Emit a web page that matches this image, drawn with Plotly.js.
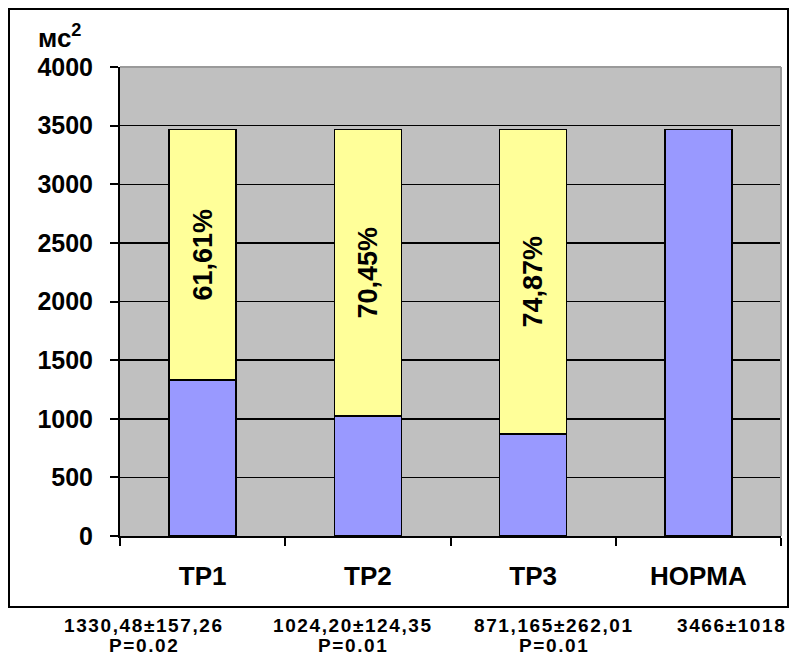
<!DOCTYPE html>
<html><head><meta charset="utf-8">
<script src="https://cdn.plot.ly/plotly-3.0.1.min.js"></script>
<style>html,body{margin:0;padding:0;background:#fff}</style>
</head><body>
<div id="chart" style="width:789px;height:657px"></div>
<script>
const categories = ['TP1', 'TP2', 'TP3', 'HOPMA'];
const blueValues = [1330.48, 1024.20, 871.165, 3466];
const yellowValues = [2135.52, 2441.80, 2594.835, null];
const yellowLabels = ['61,61%', '70,45%', '74,87%', null];
const yTicks = [0, 500, 1000, 1500, 2000, 2500, 3000, 3500, 4000];
const statLines = ['1330,48±157,26', '1024,20±124,35', '871,165±262,01', '3466±1018'];
const pLines = ['P=0.02', 'P=0.01', 'P=0.01', null];

const F = 'Liberation Sans, Arial, sans-serif';
const L = 120, R = 781, T = 67, B = 536, W = 789, H = 657;
const px = v => (v - L) / (R - L);
const py = v => (B - v) / (B - T);

const traces = [
  {type: 'bar', x: categories, y: blueValues,
   marker: {color: '#9999ff', line: {color: '#000', width: 1.5}},
   hoverinfo: 'none'},
  {type: 'bar', x: categories, y: yellowValues, text: yellowLabels,
   textposition: 'inside', insidetextanchor: 'middle', textangle: -90,
   constraintext: 'none',
   textfont: {family: F, size: 27, color: '#000', weight: 'bold'},
   marker: {color: '#ffff99', line: {color: '#000', width: 1.5}},
   hoverinfo: 'none'}
];

const colX = [144, 353, 554, 731];
const annotations = [];
statLines.forEach((s, i) => {
  annotations.push({xref: 'paper', yref: 'paper', x: px(colX[i]), y: py(625),
    text: '<span style="letter-spacing:1.6px">' + s + '</span>',
    showarrow: false, xanchor: 'center', yanchor: 'middle',
    font: {family: F, size: 19, color: '#000', weight: 'bold'}});
  if (pLines[i]) annotations.push({xref: 'paper', yref: 'paper', x: px(colX[i]), y: py(645),
    text: '<span style="letter-spacing:1.6px">' + pLines[i] + '</span>',
    showarrow: false, xanchor: 'center', yanchor: 'middle',
    font: {family: F, size: 19, color: '#000', weight: 'bold'}});
});
annotations.push({xref: 'paper', yref: 'paper', x: px(36), y: py(37), text: 'мс<sup>2</sup>',
  showarrow: false, xanchor: 'left', yanchor: 'middle',
  font: {family: F, size: 26, color: '#000', weight: 'bold'}});

const layout = {
  width: W, height: H,
  margin: {l: L, r: W - R, t: T, b: H - B, pad: 0},
  paper_bgcolor: '#fff', plot_bgcolor: '#c0c0c0',
  barmode: 'stack', bargap: 0.595, showlegend: false,
  font: {family: F, color: '#000'},
  xaxis: {type: 'category', tickson: 'boundaries', ticks: 'outside', ticklen: 8, tickwidth: 2,
    tickcolor: '#000', showline: true, linecolor: '#000', linewidth: 2, showgrid: false,
    ticklabelstandoff: 16,
    tickfont: {family: F, size: 26, color: '#000', weight: 'bold'}},
  yaxis: {range: [0, 4000], tickvals: yTicks, ticks: 'outside', ticklen: 8, tickwidth: 2,
    tickcolor: '#000', showline: true, linecolor: '#000', linewidth: 2,
    showgrid: true, gridcolor: '#000', gridwidth: 1.5, zeroline: false,
    ticklabelstandoff: 12,
    tickfont: {family: F, size: 25, color: '#000', weight: 'bold'}},
  shapes: [
    {type: 'line', xref: 'paper', yref: 'paper', x0: 0, x1: 1, y0: 1, y1: 1, layer: 'above',
     line: {color: '#9a9a9a', width: 2}},
    {type: 'line', xref: 'paper', yref: 'paper', x0: 1, x1: 1, y0: 0, y1: 1, layer: 'above',
     line: {color: '#9a9a9a', width: 2}},
    {type: 'rect', xref: 'paper', yref: 'paper', x0: px(9), x1: px(788), y0: py(607), y1: py(9),
     line: {color: '#000', width: 2}}
  ],
  annotations: annotations
};

Plotly.newPlot('chart', traces, layout, {displayModeBar: false, staticPlot: true});
</script>
</body></html>
